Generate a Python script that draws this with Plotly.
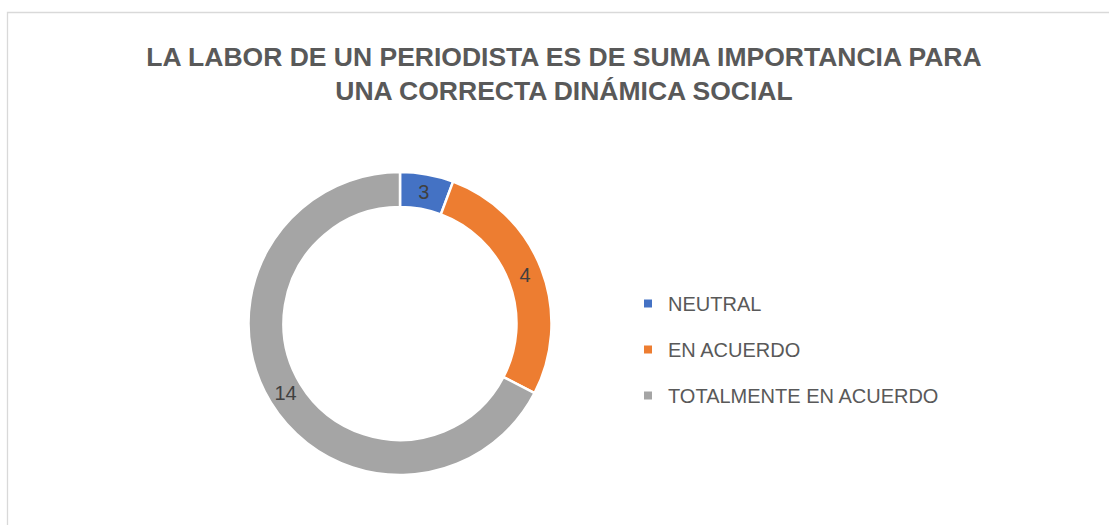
import plotly.graph_objects as go

# Categories and data labels shown on the chart
categories = ["NEUTRAL", "EN ACUERDO", "TOTALMENTE EN ACUERDO"]
data_labels = ["3", "4", "14"]
# Arc share of each slice as drawn in the picture (percent of the ring)
arc_share = [5.7, 26.9, 67.4]
colors = ["#4472C4", "#ED7D31", "#A5A5A5"]

title_text = ("LA LABOR DE UN PERIODISTA ES DE SUMA IMPORTANCIA PARA<br>"
              "UNA CORRECTA DINÁMICA SOCIAL")

W, H = 1109, 525
cx, cy, R = 400, 323.5, 151.5
FONT = "Liberation Sans, Arial, sans-serif"

fig = go.Figure()
fig.add_trace(go.Pie(
    labels=categories,
    values=arc_share,
    text=data_labels,
    textinfo="text",
    textposition="inside",
    insidetextorientation="horizontal",
    textfont=dict(family=FONT, size=20, color="#404040"),
    hole=116.5 / 151.5,
    sort=False,
    direction="clockwise",
    rotation=0,
    marker=dict(colors=colors, line=dict(color="white", width=2.5)),
    domain=dict(x=[(cx - R) / W, (cx + R) / W], y=[(H - cy - R) / H, (H - cy + R) / H]),
    showlegend=False,
    hoverinfo="label+text",
))

# Legend entries (one group each, so the spacing between rows can be set)
for i, (cat, col) in enumerate(zip(categories, colors)):
    fig.add_trace(go.Scatter(
        x=[None], y=[None], mode="markers", name=cat,
        marker=dict(symbol="square", size=8, color=col),
        legendgroup=f"g{i}", showlegend=True, hoverinfo="skip",
    ))

fig.update_layout(
    width=W, height=H,
    margin=dict(l=0, r=0, t=0, b=0),
    paper_bgcolor="white", plot_bgcolor="white",
    xaxis=dict(visible=False), yaxis=dict(visible=False),
    title=dict(
        text="<b>" + title_text + "</b>",
        x=564 / W, xanchor="center",
        y=1 - 65.5 / H, yanchor="middle",
        font=dict(family=FONT, size=26.5, color="#595959"),
    ),
    legend=dict(
        x=628 / W, xanchor="left",
        y=1 - 284 / H, yanchor="top",
        font=dict(family=FONT, size=20, color="#595959"),
        tracegroupgap=17,
        itemwidth=30,
        bgcolor="rgba(0,0,0,0)",
    ),
    shapes=[dict(
        type="rect", xref="paper", yref="paper",
        x0=7.5 / W, x1=1.05, y0=-0.05, y1=1 - 12.5 / H,
        line=dict(color="#D9D9D9", width=1.3), fillcolor="rgba(0,0,0,0)",
        layer="below",
    )],
)

fig.write_html("out.html", config={"displayModeBar": False},
               post_script="document.body.style.margin='0px';")
